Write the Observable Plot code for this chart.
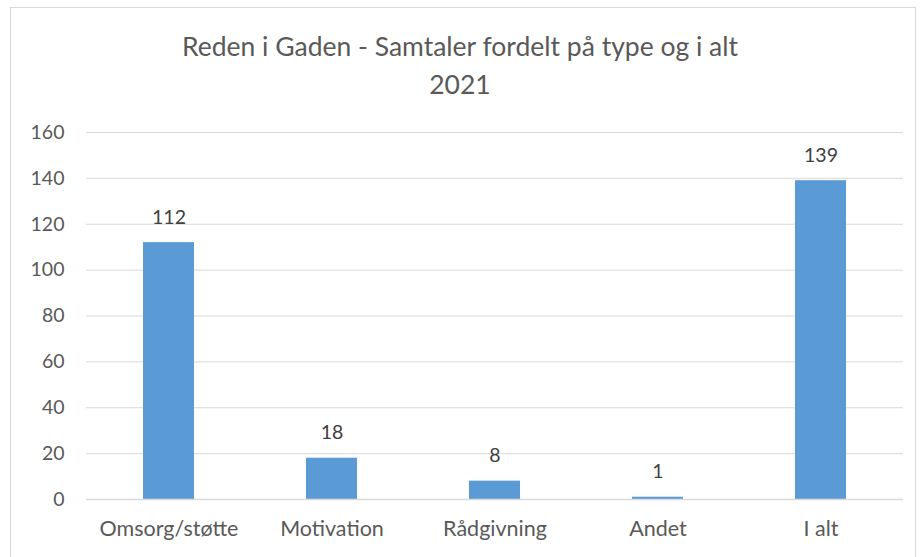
<!DOCTYPE html>
<html>
<head>
<meta charset="utf-8">
<script src="https://cdn.jsdelivr.net/npm/d3@7"></script>
<script src="https://cdn.jsdelivr.net/npm/@observablehq/plot@0.6"></script>
<style>
  body { margin: 0; background: #fff; font-family: Lato, "Open Sans", sans-serif; }
  #frame { position: absolute; left: 10px; top: 7px; width: 906px; height: 560px; border: 1px solid #d9d9d9; box-sizing: border-box; }
  #title { position: absolute; left: 0; top: 27px; width: 920px; text-align: center; color: #595959; font-size: 26.5px; line-height: 38px; }
  #chart { position: absolute; left: 0; top: 110px; }
</style>
</head>
<body>
<div id="frame"></div>
<div id="title">Reden i Gaden - Samtaler fordelt på type og i alt<br>2021</div>
<div id="chart"></div>
<script>
const categories = ["Omsorg/støtte", "Motivation", "Rådgivning", "Andet", "I alt"];
const values = [112, 18, 8, 1, 139];
const yTicks = [0, 20, 40, 60, 80, 100, 120, 140, 160];

const data = categories.map((c, i) => ({category: c, value: values[i]}));

const chart = Plot.plot({
  width: 920,
  height: 447,
  marginTop: 22,
  marginBottom: 58,
  marginLeft: 86,
  marginRight: 17,
  style: {fontFamily: "Lato, 'Open Sans', sans-serif", fontSize: "19px", color: "#595959", background: "transparent"},
  x: {domain: categories, paddingInner: 0.69, paddingOuter: 0.345, label: null},
  y: {domain: [0, 160], label: null},
  marks: [
    Plot.gridY(yTicks, {stroke: "#d9d9d9", strokeOpacity: 1, strokeWidth: 1}),
    Plot.barY(data, {x: "category", y: "value", fill: "#5b9bd5"}),
    Plot.ruleY([0], {stroke: "#d9d9d9", strokeWidth: 1.3}),
    Plot.axisY(yTicks, {tickSize: 0, tickPadding: 22, fontSize: 19.5, fill: "#595959", label: null}),
    Plot.axisX({tickSize: 0, tickPadding: 21, fontSize: 21.5, fill: "#595959", label: null}),
    Plot.text(data, {x: "category", y: "value", text: d => String(d.value), dy: -25, fill: "#404040", fontSize: 19.5})
  ]
});
document.getElementById("chart").appendChild(chart);
</script>
</body>
</html>
